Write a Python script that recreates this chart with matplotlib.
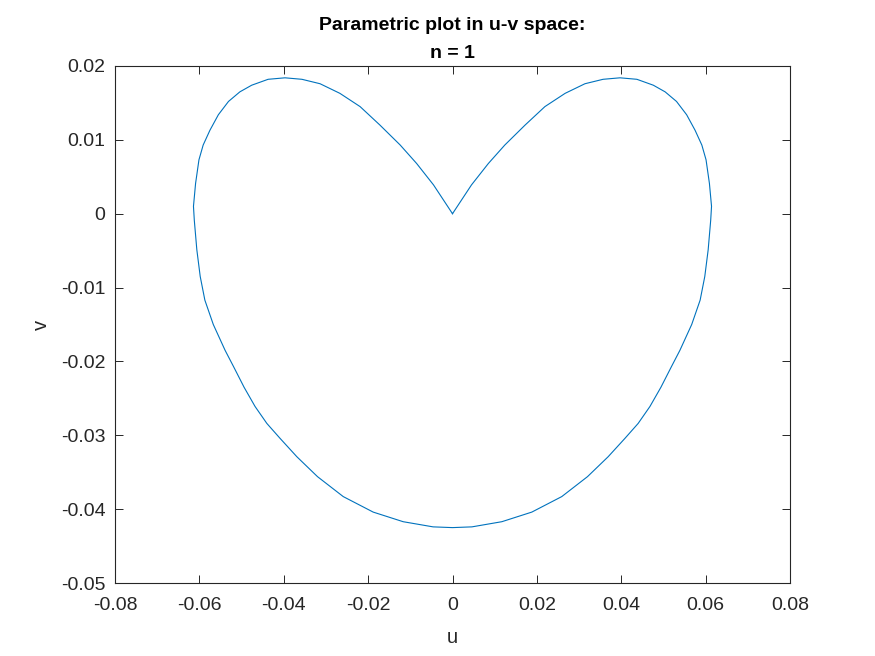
import numpy as np
import matplotlib.pyplot as plt

plt.rcParams['font.family'] = ['Liberation Sans', 'DejaVu Sans']

# curve: left lobe from the cusp, over the top, round to the bottom
left_u = [0.0, -0.0045, -0.0085, -0.0124, -0.0172, -0.0219, -0.0267, -0.0314,
          -0.0357, -0.0397, -0.0437, -0.0476, -0.0504, -0.0531, -0.0555,
          -0.0575, -0.0591, -0.0601, -0.0609, -0.0614, -0.0612, -0.0606,
          -0.0598, -0.0587, -0.0567, -0.0539, -0.0519, -0.0494, -0.0468,
          -0.0440, -0.0409, -0.0369, -0.0320, -0.0259, -0.0188, -0.0117,
          -0.0046, 0.0]
left_v = [0.0, 0.0039, 0.0068, 0.0093, 0.0120, 0.0145, 0.0163, 0.0176,
          0.0182, 0.0184, 0.0182, 0.0174, 0.0165, 0.0152, 0.0134,
          0.0113, 0.0093, 0.0073, 0.0041, 0.0010, -0.0009, -0.0049,
          -0.0085, -0.0117, -0.0150, -0.0185, -0.0207, -0.0235, -0.0261,
          -0.0284, -0.0304, -0.0329, -0.0356, -0.0383, -0.0404, -0.0417,
          -0.0424, -0.0425]

# right lobe from the bottom back up to the cusp
right_u = [0.0046, 0.0117, 0.0188, 0.0259, 0.0320, 0.0369, 0.0409, 0.0440,
           0.0468, 0.0494, 0.0519, 0.0539, 0.0567, 0.0587, 0.0598, 0.0606,
           0.0612, 0.0614, 0.0609, 0.0601, 0.0591, 0.0575, 0.0555, 0.0531,
           0.0504, 0.0476, 0.0437, 0.0397, 0.0357, 0.0314, 0.0267, 0.0219,
           0.0172, 0.0124, 0.0085, 0.0045, 0.0]
right_v = [-0.0424, -0.0417, -0.0404, -0.0383, -0.0356, -0.0329, -0.0304, -0.0284,
           -0.0261, -0.0235, -0.0207, -0.0185, -0.0150, -0.0117, -0.0085, -0.0049,
           -0.0009, 0.0010, 0.0041, 0.0073, 0.0093, 0.0113, 0.0134, 0.0152,
           0.0165, 0.0174, 0.0182, 0.0184, 0.0182, 0.0176, 0.0163, 0.0145,
           0.0120, 0.0093, 0.0068, 0.0039, 0.0]

u = np.array(left_u + right_u)
v = np.array(left_v + right_v)

xticks = [-0.08, -0.06, -0.04, -0.02, 0, 0.02, 0.04, 0.06, 0.08]
yticks = [-0.05, -0.04, -0.03, -0.02, -0.01, 0, 0.01, 0.02]

dark = (0.15, 0.15, 0.15)

fig = plt.figure(figsize=(8.75, 6.56), dpi=100)
ax = fig.add_axes([115 / 875, 73 / 656, 675 / 875, 517 / 656])
ax.plot(u, v, color=(0, 0.447, 0.741), lw=0.8)

ax.set_xlim(-0.08, 0.08)
ax.set_ylim(-0.05, 0.02)
ax.set_xticks(xticks)
ax.set_yticks(yticks)
ax.set_xticklabels(['%g' % t for t in xticks])
ax.set_yticklabels(['%g' % t for t in yticks])
ax.tick_params(direction='in', top=True, right=True, length=6, width=0.7,
               colors=dark, labelsize=14)
ax.tick_params(axis='x', pad=10)
ax.tick_params(axis='y', pad=7)
for s in ax.spines.values():
    s.set_color(dark)
    s.set_linewidth(0.8)

ax.set_xlabel('u', fontsize=14.5, color=dark, labelpad=10)
ax.set_ylabel('v', fontsize=14.5, color=dark, labelpad=7)
ax.set_title('Parametric plot in u-v space:\nn = 1', fontsize=14,
             fontweight='bold', color='black', pad=6, linespacing=1.8)

fig.savefig('out.png', dpi=100)
